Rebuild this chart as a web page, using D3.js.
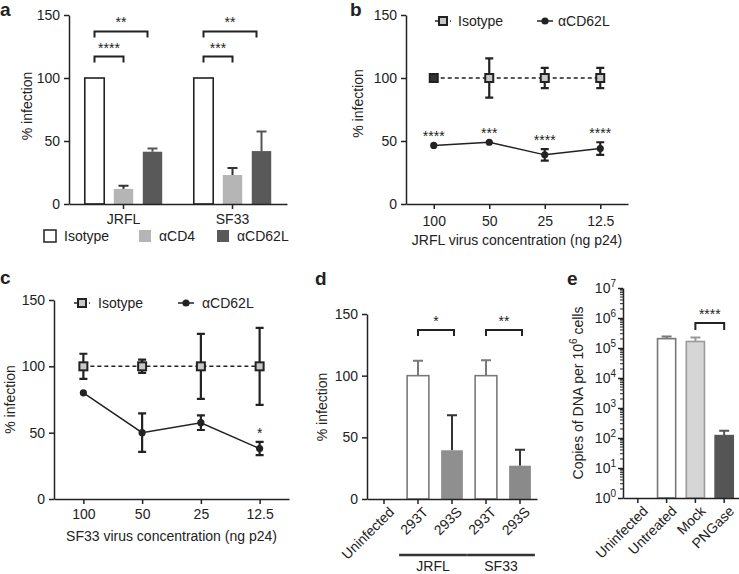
<!DOCTYPE html>
<html><head><meta charset="utf-8">
<script src="https://cdn.jsdelivr.net/npm/d3@7"></script>
<style>
body{margin:0;background:#fff}
svg{display:block}
text{font-family:"Liberation Sans",Arial,Helvetica,sans-serif;fill:#222}
</style>
</head><body>
<svg id="chart" width="739" height="574"></svg>
<script>
// ---------- DATA ----------
// Panel a
const aGroups = ["JRFL", "SF33"];
const aSeries = ["Isotype", "αCD4", "αCD62L"];
const aValues = [[100, 12, 41.5], [100, 23, 42]];
const aErrors = [[0, 2.5, 2.5], [0, 5.5, 15.5]];
const aBrackets = [["JRFL", "Isotype", "αCD62L", 137, "**"], ["JRFL", "Isotype", "αCD4", 117, "****"],
                   ["SF33", "Isotype", "αCD62L", 137, "**"], ["SF33", "Isotype", "αCD4", 117, "***"]];
// Panel b
const concentrations = ["100", "50", "25", "12.5"];
const bIsotype = [100, 100, 100, 100];
const bIsotypeErr = [0, 15.5, 8, 8];
const bCD62L = [46.5, 49, 39, 44];
const bCD62LErr = [0, 0, 4.5, 5];
const bStars = ["****", "***", "****", "****"];
// Panel c
const cIsotype = [100, 100, 100, 100];
const cIsotypeErr = [9.5, 5, 24.5, 29];
const cCD62L = [80, 50, 57.5, 38];
const cCD62LErr = [0, 14.5, 5.5, 5];
const cStars = ["", "", "", "*"];
// Panel d
const dLabels = ["Uninfected", "293T", "293S", "293T", "293S"];
const dValues = [0, 100, 39.5, 100, 27];
const dErrors = [0, 12, 28.5, 12.5, 13];
const dGroupNames = ["JRFL", "SF33"];
const dGroupSpans = [[1, 2], [3, 4]];
const dBrackets = [[1, 2, 137, "*"], [3, 4, 137, "**"]];
// Panel e
const eLabels = ["Uninfected", "Untreated", "Mock", "PNGase"];
const eValues = [0, 205000, 165000, 120];
const eErrors = [0, 35000, 60000, 55];
const eBracket = [2, 3, 680000, "****"];
const yTicksLinear = [0, 50, 100, 150];

// ---------- HELPERS ----------
const svg = d3.select("#chart");
const INK = "#222";
function styleAxis(g) {
  g.selectAll("path,line").attr("stroke", INK).attr("stroke-width", 1.5);
  g.selectAll("text").attr("font-size", 14).attr("fill", INK)
    .attr("font-family", '"Liberation Sans", Arial, sans-serif');
}
function yAxis(x, y) {
  const g = svg.append("g").attr("transform", `translate(${x},0)`)
    .call(d3.axisLeft(y).tickValues(yTicksLinear).tickSize(5).tickSizeOuter(0).tickPadding(4));
  styleAxis(g); return g;
}
function xAxis(y, x, labels) {
  const ax = d3.axisBottom(x).tickSize(5).tickSizeOuter(0).tickPadding(7);
  if (labels === false) ax.tickFormat("");
  const g = svg.append("g").attr("transform", `translate(0,${y})`).call(ax);
  styleAxis(g); return g;
}
function yTitle(x, y, txt) {
  svg.append("text").attr("transform", `translate(${x},${y}) rotate(-90)`)
    .attr("text-anchor", "middle").attr("font-size", 14).text(txt);
}
function panelLetter(x, y, t) {
  svg.append("text").attr("x", x).attr("y", y).attr("font-size", 19)
    .attr("font-weight", "bold").text(t);
}
function bracket(x1, x2, y, label, h) {
  svg.append("path").attr("d", `M${x1},${y + h}V${y}H${x2}V${y + h}`)
    .attr("fill", "none").attr("stroke", INK).attr("stroke-width", 2);
  svg.append("text").attr("x", (x1 + x2) / 2).attr("y", y - 4)
    .attr("text-anchor", "middle").attr("font-size", 14).text(label);
}
function errBar(x, y1, y2, cap, color, w) {
  svg.append("path").attr("d", `M${x},${y1}V${y2}M${x - cap / 2},${y2}H${x + cap / 2}`)
    .attr("stroke", color).attr("stroke-width", w).attr("fill", "none");
}
function errBar2(x, yTop, yBot, cap, color, w) {
  svg.append("path").attr("d", `M${x},${yBot}V${yTop}M${x - cap / 2},${yTop}H${x + cap / 2}M${x - cap / 2},${yBot}H${x + cap / 2}`)
    .attr("stroke", color).attr("stroke-width", w).attr("fill", "none");
}
function square(x, y, fill) {
  svg.append("rect").attr("x", x - 4).attr("y", y - 4).attr("width", 8).attr("height", 8)
    .attr("fill", fill).attr("stroke", INK).attr("stroke-width", 2);
}
function dot(x, y) {
  svg.append("circle").attr("cx", x).attr("cy", y).attr("r", 3.6).attr("fill", INK);
}

// ---------- PANEL A ----------
const yA = d3.scaleLinear().domain([0, 150]).range([204, 15]);
const xA = d3.scaleBand().domain(aGroups).range([69, 287]).padding(0);
const subA = d3.scaleBand().domain(aSeries).range([-43.5, 43.5]).paddingInner(0.33).paddingOuter(0.165);
const aFill = ["#fff", "#b5b5b5", "#595959"];
const aStroke = [INK, "none", "none"];
const aErrColor = ["#222", "#333", "#555"];
aGroups.forEach((gname, gi) => {
  const cx = xA(gname) + xA.bandwidth() / 2;
  aSeries.forEach((s, si) => {
    const x0 = cx + subA(s);
    const v = aValues[gi][si];
    if (aErrors[gi][si] > 0) {
      const xc = x0 + subA.bandwidth() / 2;
      errBar(xc, yA(v), yA(v + aErrors[gi][si]), 10, aErrColor[si], 2);
    }
    svg.append("rect").attr("x", x0).attr("y", yA(v)).attr("width", subA.bandwidth())
      .attr("height", yA(0) - yA(v)).attr("fill", aFill[si]).attr("stroke", aStroke[si]).attr("stroke-width", 1.6);
  });
});
aBrackets.forEach(([gname, s1, s2, lvl, lab]) => {
  const cx = xA(gname) + xA.bandwidth() / 2;
  const x1 = cx + subA(s1) + subA.bandwidth() / 2;
  const x2 = cx + subA(s2) + subA.bandwidth() / 2 - (s2 === "αCD62L" ? 5 : 0);
  bracket(x1, x2, yA(lvl), lab, 6);
});
yAxis(69, yA);
{
  const xg = svg.append("g").attr("transform", "translate(0,204)")
    .call(d3.axisBottom(d3.scaleBand().domain(aGroups).range([69, 287])).tickSize(5).tickSizeOuter(0).tickPadding(5));
  styleAxis(xg);
}
yTitle(32, 106, "% infection");
panelLetter(0, 16, "a");
// legend a
const aLegendX = [44, 139, 217];
aSeries.forEach((s, i) => {
  svg.append("rect").attr("x", aLegendX[i]).attr("y", 230).attr("width", 12).attr("height", 12)
    .attr("fill", aFill[i]).attr("stroke", i === 0 ? INK : "none").attr("stroke-width", 1.5);
  svg.append("text").attr("x", aLegendX[i] + 20).attr("y", 241).attr("font-size", 14).text(s);
});

// ---------- PANEL B / C (line charts) ----------
function linePanel(opts) {
  const { x0, x1, yBot, yTop, iso, isoErr, cd, cdErr, stars, title, titleY, tickY, legendY, legendIso, legendCd, ytx } = opts;
  const y = d3.scaleLinear().domain([0, 150]).range([yBot, yTop]);
  const x = d3.scalePoint().domain(concentrations).range([x0, x1]).padding(0.5);
  const line = d3.line().x((d, i) => x(concentrations[i])).y(d => y(d));
  svg.append("path").attr("d", line(iso)).attr("fill", "none").attr("stroke", INK)
    .attr("stroke-width", 1.5).attr("stroke-dasharray", "4,3");
  svg.append("path").attr("d", line(cd)).attr("fill", "none").attr("stroke", INK).attr("stroke-width", 1.5);
  iso.forEach((v, i) => {
    if (isoErr[i] > 0) errBar2(x(concentrations[i]), y(v + isoErr[i]), y(v - isoErr[i]), 8, INK, 2.2);
  });
  cd.forEach((v, i) => {
    if (cdErr[i] > 0) errBar2(x(concentrations[i]), y(v + cdErr[i]), y(v - cdErr[i]), 8, INK, 2.2);
  });
  iso.forEach((v, i) => square(x(concentrations[i]), y(v), isoErr[i] > 0 ? "#c8c8c8" : "#333"));
  cd.forEach((v, i) => dot(x(concentrations[i]), y(v)));
  stars.forEach((s, i) => {
    if (!s) return;
    const top = y(cd[i] + cdErr[i]);
    svg.append("text").attr("x", x(concentrations[i])).attr("y", Math.min(top, y(cd[i])) - 4)
      .attr("text-anchor", "middle").attr("font-size", 14).text(s);
  });
  yAxis(x0, y);
  const xg = svg.append("g").attr("transform", `translate(0,${yBot})`)
    .call(d3.axisBottom(x).tickSize(5).tickSizeOuter(0).tickPadding(tickY));
  styleAxis(xg);
  svg.append("text").attr("x", (x0 + x1) / 2).attr("y", titleY).attr("text-anchor", "middle")
    .attr("font-size", 14).text(title);
  const [lx1, tx1] = legendIso, [lx2, tx2] = legendCd;
  svg.append("path").attr("d", `M${lx1},${legendY}H${lx1 + 16}`).attr("stroke", INK)
    .attr("stroke-width", 1.5).attr("stroke-dasharray", "3,2");
  square(lx1 + 8, legendY, "#c8c8c8");
  svg.append("text").attr("x", tx1).attr("y", legendY + 5).attr("font-size", 14).text("Isotype");
  svg.append("path").attr("d", `M${lx2},${legendY}H${lx2 + 16}`).attr("stroke", INK).attr("stroke-width", 1.5);
  dot(lx2 + 8, legendY);
  svg.append("text").attr("x", tx2).attr("y", legendY + 5).attr("font-size", 14).text("αCD62L");
  yTitle(ytx, (yBot + yTop) / 2 - (ytx > 300 ? 6 : 0), "% infection");
}
linePanel({ x0: 406, x1: 628, yBot: 204, yTop: 15, iso: bIsotype, isoErr: bIsotypeErr, cd: bCD62L, cdErr: bCD62LErr,
  stars: bStars, title: "JRFL virus concentration (ng p24)", titleY: 245, tickY: 7, legendY: 21,
  legendIso: [435, 458], legendCd: [537, 558], ytx: 363 });
panelLetter(350, 16, "b");
linePanel({ x0: 54, x1: 289, yBot: 499, yTop: 300, iso: cIsotype, isoErr: cIsotypeErr, cd: cCD62L, cdErr: cCD62LErr,
  stars: cStars, title: "SF33 virus concentration (ng p24)", titleY: 541, tickY: 5, legendY: 303,
  legendIso: [74, 98], legendCd: [178, 202], ytx: 15 });
panelLetter(0, 284, "c");

// ---------- PANEL D ----------
const yD = d3.scaleLinear().domain([0, 150]).range([499, 314]);
const xD = d3.scaleBand().domain(d3.range(dLabels.length)).range([367, 537]).paddingInner(0.36).paddingOuter(0.18);
const dFill = ["#fff", "#fff", "#8f8f8f", "#fff", "#8a8a8a"];
dValues.forEach((v, i) => {
  if (v <= 0) return;
  const xc = xD(i) + xD.bandwidth() / 2;
  const open = dFill[i] === "#fff";
  errBar(xc, yD(v), yD(v + dErrors[i]), 10, open ? "#7a7a7a" : "#333", 2);
  svg.append("rect").attr("x", xD(i)).attr("y", yD(v)).attr("width", xD.bandwidth())
    .attr("height", yD(0) - yD(v)).attr("fill", dFill[i])
    .attr("stroke", open ? "#7a7a7a" : "none").attr("stroke-width", 1.6);
});
dBrackets.forEach(([i1, i2, lvl, lab]) => {
  bracket(xD(i1) + xD.bandwidth() / 2, xD(i2) + xD.bandwidth() / 2 + 2, yD(lvl), lab, 6);
});
yAxis(367, yD);
{
  xAxis(499, xD, false);
  dLabels.forEach((l, i) => {
    svg.append("text").attr("transform", `translate(${xD(i) + xD.bandwidth() / 2 + 4},${506}) rotate(-45)`)
      .attr("text-anchor", "end").attr("dy", "0.7em").attr("font-size", 14).text(l);
  });
}
dGroupNames.forEach((n, gi) => {
  const [i1, i2] = dGroupSpans[gi];
  const xl = xD(i1) - 8, xr = xD(i2) + xD.bandwidth() + 4;
  svg.append("path").attr("d", `M${xl},555H${xr}`).attr("stroke", "#333").attr("stroke-width", 2.5);
  svg.append("text").attr("x", (xl + xr) / 2).attr("y", 571).attr("text-anchor", "middle")
    .attr("font-size", 14).text(n);
});
yTitle(327, 407, "% infection");
panelLetter(315, 285, "d");

// ---------- PANEL E ----------
const yE = d3.scaleLog().domain([1, 1e7]).range([498, 288]);
const xE = d3.scaleBand().domain(d3.range(eLabels.length)).range([623, 739]).paddingInner(0.37).paddingOuter(0.2);
const eFill = ["#fff", "#fff", "#d6d6d6", "#555"];
const eStroke = ["#777", "#777", "#9a9a9a", "#555"];
eValues.forEach((v, i) => {
  if (v <= 1) return;
  const xc = xE(i) + xE.bandwidth() / 2;
  errBar(xc, yE(v), yE(v + eErrors[i]), 10, eStroke[i], 2);
  svg.append("rect").attr("x", xE(i)).attr("y", yE(v)).attr("width", xE.bandwidth())
    .attr("height", yE(1) - yE(v)).attr("fill", eFill[i]).attr("stroke", eStroke[i]).attr("stroke-width", 1.6);
});
{
  const [i1, i2, lvl, lab] = eBracket;
  bracket(xE(i1) + xE.bandwidth() / 2, xE(i2) + xE.bandwidth() / 2, yE(lvl), lab, 7);
}
{
  const majors = d3.range(0, 8).map(k => Math.pow(10, k));
  const g = svg.append("g").attr("transform", "translate(623,0)")
    .call(d3.axisLeft(yE).tickValues(majors).tickFormat("").tickSize(5).tickSizeOuter(0));
  styleAxis(g);
  const minors = [];
  for (let k = 0; k < 7; k++) for (let m = 2; m <= 9; m++) minors.push(m * Math.pow(10, k));
  svg.append("g").selectAll("line").data(minors).join("line")
    .attr("x1", 620).attr("x2", 623).attr("y1", d => yE(d)).attr("y2", d => yE(d))
    .attr("stroke", INK).attr("stroke-width", 1);
  majors.forEach((m, k) => {
    const t = svg.append("text").attr("x", 616).attr("y", yE(m) + 5).attr("text-anchor", "end").attr("font-size", 14);
    t.append("tspan").text("10");
    t.append("tspan").attr("dy", -6).attr("font-size", 10).text(String(k));
  });
  xAxis(498, xE, false);
  eLabels.forEach((l, i) => {
    svg.append("text").attr("transform", `translate(${xE(i) + xE.bandwidth() / 2 + 4},${505}) rotate(-45)`)
      .attr("text-anchor", "end").attr("dy", "0.7em").attr("font-size", 14).text(l);
  });
  const t = svg.append("text").attr("transform", "translate(583,393) rotate(-90)")
    .attr("text-anchor", "middle").attr("font-size", 14);
  t.append("tspan").text("Copies of DNA per 10");
  t.append("tspan").attr("dy", -6).attr("font-size", 10).text("6");
  t.append("tspan").attr("dy", 6).text(" cells");
}
panelLetter(567, 285, "e");
</script>
</body></html>
